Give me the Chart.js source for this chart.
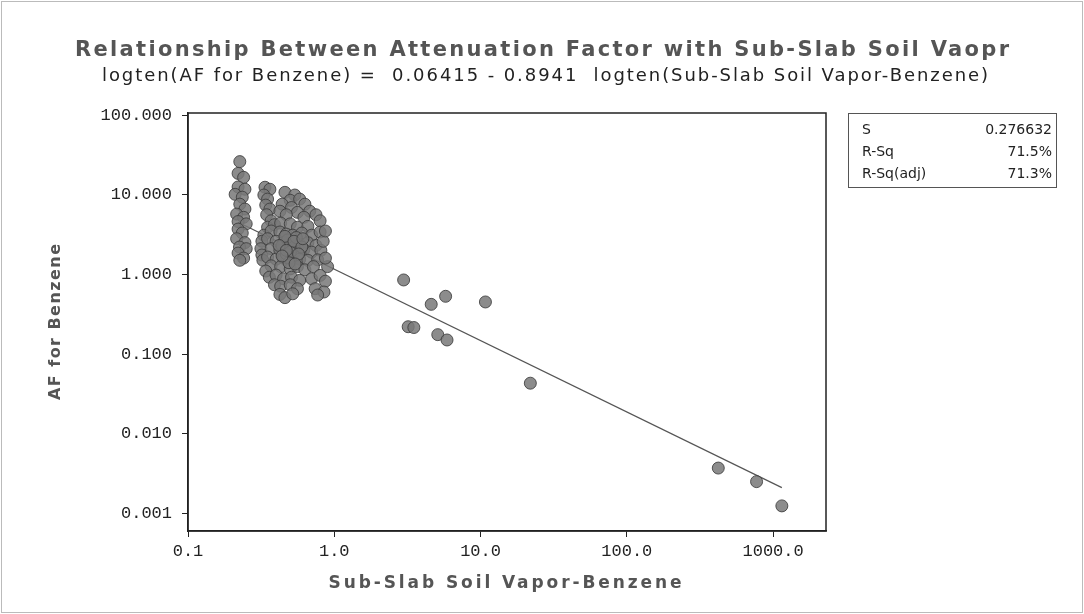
<!DOCTYPE html>
<html>
<head>
<meta charset="utf-8">
<script src="https://cdn.jsdelivr.net/npm/chart.js@4.4.0/dist/chart.umd.min.js"></script>
<style>
html, body { margin: 0; padding: 0; background: #fff; }
#wrap { width: 1084px; height: 614px; position: relative; }
</style>
</head>
<body>
<div id="wrap"><canvas id="af-chart"></canvas></div>
<script>
/**
 *  Data
 */
var soilVapor = [
    0.226, 0.22, 0.24, 0.22, 0.245, 0.21, 0.235, 0.226, 0.245, 0.215, 0.24, 0.22, 0.25, 0.22, 0.235, 0.215, 0.245, 0.225, 0.25, 0.22, 0.24, 0.226,
    0.336, 0.363, 0.33, 0.35, 0.34, 0.363, 0.345, 0.37, 0.35, 0.33, 0.32, 0.315, 0.32, 0.325,
    0.46, 0.537, 0.50, 0.58, 0.44, 0.63, 0.51, 0.425, 0.56, 0.68, 0.47, 0.62, 0.75, 0.80,
    0.39, 0.43, 0.50, 0.56, 0.66, 0.37, 0.425, 0.47, 0.52, 0.60, 0.70, 0.80, 0.35, 0.40, 0.45, 0.51, 0.58, 0.66, 0.75,
    0.37, 0.425, 0.48, 0.545, 0.62, 0.70, 0.81, 0.35, 0.40, 0.45, 0.51, 0.58, 0.66, 0.77, 0.37, 0.43, 0.50, 0.56, 0.63, 0.72,
    0.44, 0.48, 0.53, 0.47, 0.55, 0.50, 0.46, 0.53, 0.60, 0.42, 0.49, 0.57, 0.54, 0.47, 0.61, 0.44,
    0.34, 0.36, 0.40, 0.45, 0.51, 0.58, 0.39, 0.43, 0.50, 0.56, 0.425, 0.46, 0.52,
    0.70, 0.80, 0.87, 0.74, 0.85, 0.77, 0.90, 0.87, 0.84, 0.87,
    2.98, 5.77, 4.6, 10.8, 3.2, 3.5, 5.1, 5.9, 21.9, 422, 771, 1148
];
var attenFactor = [
    26, 18.5, 16.5, 12.5, 11.7, 10.1, 9.3, 7.6, 6.6, 5.7, 5.2, 4.6, 4.3, 3.7, 3.3, 2.8, 2.5, 2.2, 2.1, 1.85, 1.6, 1.5,
    12.4, 11.7, 9.9, 8.8, 7.4, 6.6, 5.6, 4.7, 3.9, 3.1, 2.6, 2.1, 1.75, 1.5,
    10.7, 9.9, 8.5, 8.8, 7.6, 7.6, 6.9, 6.2, 6.0, 6.2, 5.6, 5.2, 5.6, 4.7,
    4.2, 4.4, 4.3, 3.9, 4.0, 3.5, 3.4, 3.2, 3.1, 3.3, 3.1, 3.4, 2.8, 2.6, 2.5, 2.5, 2.4, 2.5, 2.3,
    2.1, 2.0, 2.1, 1.95, 2.05, 1.9, 2.0, 1.65, 1.55, 1.6, 1.5, 1.55, 1.5, 1.52, 1.28, 1.25, 1.17, 1.25, 1.14, 1.25,
    2.3, 2.7, 2.2, 1.8, 2.9, 1.9, 3.0, 2.6, 2.2, 2.3, 1.4, 1.8, 1.35, 2.0, 2.8, 1.7,
    1.1, 0.92, 0.98, 0.88, 0.92, 0.84, 0.74, 0.71, 0.74, 0.66, 0.56, 0.51, 0.57,
    0.88, 0.97, 0.82, 0.66, 0.60, 0.55, 1.25, 1.6, 2.6, 3.5,
    0.85, 0.53, 0.42, 0.45, 0.22, 0.215, 0.175, 0.15, 0.043, 0.0037, 0.0025, 0.00124
];

// fitted line end points
var fitX = [0.22, 1148];
var fitY = [4.5, 0.0021];

var xTicks = [0.1, 1, 10, 100, 1000];
var xTickLabels = ['0.1', '1.0', '10.0', '100.0', '1000.0'];
var yTicks = [0.001, 0.01, 0.1, 1, 10, 100];
var yTickLabels = ['0.001', '0.010', '0.100', '1.000', '10.000', '100.000'];

var statNames = ['S', 'R-Sq', 'R-Sq(adj)'];
var statValues = ['0.276632', '71.5%', '71.3%'];

var titleText = 'Relationship Between Attenuation Factor with Sub-Slab Soil Vaopr';
var subtitleText = 'logten(AF for Benzene) =  0.06415 - 0.8941  logten(Sub-Slab Soil Vapor-Benzene)';
var xTitle = 'Sub-Slab Soil Vapor-Benzene';
var yTitle = 'AF for Benzene';

/**
 *  Draw text spread to a given width
 */
function spreadText(ctx, text, cx, cy, width, font, color)
{
    ctx.save();
    ctx.font = font;
    ctx.fillStyle = color;
    ctx.textBaseline = 'middle';
    ctx.textAlign = 'left';
    ctx.letterSpacing = '0px';
    var w = ctx.measureText(text).width;
    var sp = Math.max(0, (width - w) / (text.length - 1));
    ctx.letterSpacing = sp + 'px';
    ctx.fillText(text, cx - width / 2, cy);
    ctx.restore();
}

var decorPlugin = {
    id: 'decor',
    beforeDraw: function (chart) {
        var ctx = chart.ctx;
        ctx.save();
        ctx.fillStyle = '#fff';
        ctx.fillRect(0, 0, chart.width, chart.height);
        ctx.strokeStyle = '#bbb';
        ctx.lineWidth = 1;
        ctx.strokeRect(1.5, 1.5, chart.width - 3, chart.height - 3);
        ctx.restore();
    },
    afterDraw: function (chart) {
        var ctx = chart.ctx;
        var a = chart.chartArea;

        // frame round the plot area
        ctx.save();
        ctx.strokeStyle = '#222';
        ctx.lineWidth = 1.5;
        ctx.strokeRect(a.left, a.top, a.right - a.left, a.bottom - a.top);
        ctx.restore();

        spreadText(ctx, titleText, 542, 51, 934, 'bold 21px "DejaVu Sans"', '#555');
        spreadText(ctx, subtitleText, 545, 76, 886, '18px "DejaVu Sans"', '#222');
        spreadText(ctx, xTitle, 505, 584, 353, 'bold 17px "DejaVu Sans"', '#555');

        ctx.save();
        ctx.translate(56, 322);
        ctx.rotate(-Math.PI / 2);
        spreadText(ctx, yTitle, 0, 0, 156, 'bold 16px "DejaVu Sans"', '#555');
        ctx.restore();

        // stats box
        ctx.save();
        ctx.strokeStyle = '#555';
        ctx.lineWidth = 1;
        ctx.strokeRect(848.5, 113.5, 208, 74);
        ctx.font = '14px "DejaVu Sans"';
        ctx.fillStyle = '#222';
        ctx.textBaseline = 'middle';
        for (var i = 0; i < statNames.length; i++) {
            var yy = 130 + i * 22;
            ctx.textAlign = 'left';
            ctx.fillText(statNames[i], 862, yy);
            ctx.textAlign = 'right';
            ctx.fillText(statValues[i], 1052, yy);
        }
        ctx.restore();
    }
};

var points = soilVapor.map(function (v, i) { return { x: v, y: attenFactor[i] }; });
var fitLine = fitX.map(function (v, i) { return { x: v, y: fitY[i] }; });

var tickFont = { family: '"Liberation Mono", monospace', size: 17 };

var ctx = document.getElementById('af-chart').getContext('2d');
var afChart = new Chart(ctx, {
    type: 'scatter',
    data: {
        datasets: [
        {
            data: points,
            pointRadius: 6,
            pointBackgroundColor: 'rgba(120,120,120,0.85)',
            pointBorderColor: 'rgba(60,60,60,0.85)',
            pointBorderWidth: 1,
            order: 1
        },
        {
            type: 'line',
            data: fitLine,
            borderColor: '#555',
            borderWidth: 1.2,
            pointRadius: 0,
            fill: false,
            order: 2
        }
        ]
    },
    plugins: [decorPlugin],
    options: {
        responsive: true,
        maintainAspectRatio: false,
        animation: false,
        layout: {
            padding: { left: 0, top: 113, right: 258, bottom: 0 }
        },
        plugins: {
            legend: { display: false },
            tooltip: { enabled: false }
        },
        scales: {
            x: {
                type: 'logarithmic',
                min: 0.1,
                max: 2300,
                afterBuildTicks: function (scale) {
                    scale.ticks = xTicks.map(function (v) { return { value: v }; });
                },
                afterFit: function (scale) {
                    scale.height = 614 - 531;
                },
                grid: { drawOnChartArea: false, tickLength: 6, color: '#222' },
                border: { color: '#222', width: 1.5 },
                ticks: {
                    font: tickFont,
                    color: '#222',
                    padding: 4,
                    autoSkip: false,
                    maxRotation: 0,
                    callback: function (value, index) {
                        return xTickLabels[index];
                    }
                }
            },
            y: {
                type: 'logarithmic',
                min: 0.00063,
                max: 106,
                afterBuildTicks: function (scale) {
                    scale.ticks = yTicks.map(function (v) { return { value: v }; });
                },
                afterFit: function (scale) {
                    scale.width = 188;
                },
                grid: { drawOnChartArea: false, tickLength: 6, color: '#222' },
                border: { color: '#222', width: 1.5 },
                ticks: {
                    font: tickFont,
                    color: '#222',
                    padding: 10,
                    autoSkip: false,
                    callback: function (value, index) {
                        return yTickLabels[index];
                    }
                }
            }
        }
    }
});
</script>
</body>
</html>
